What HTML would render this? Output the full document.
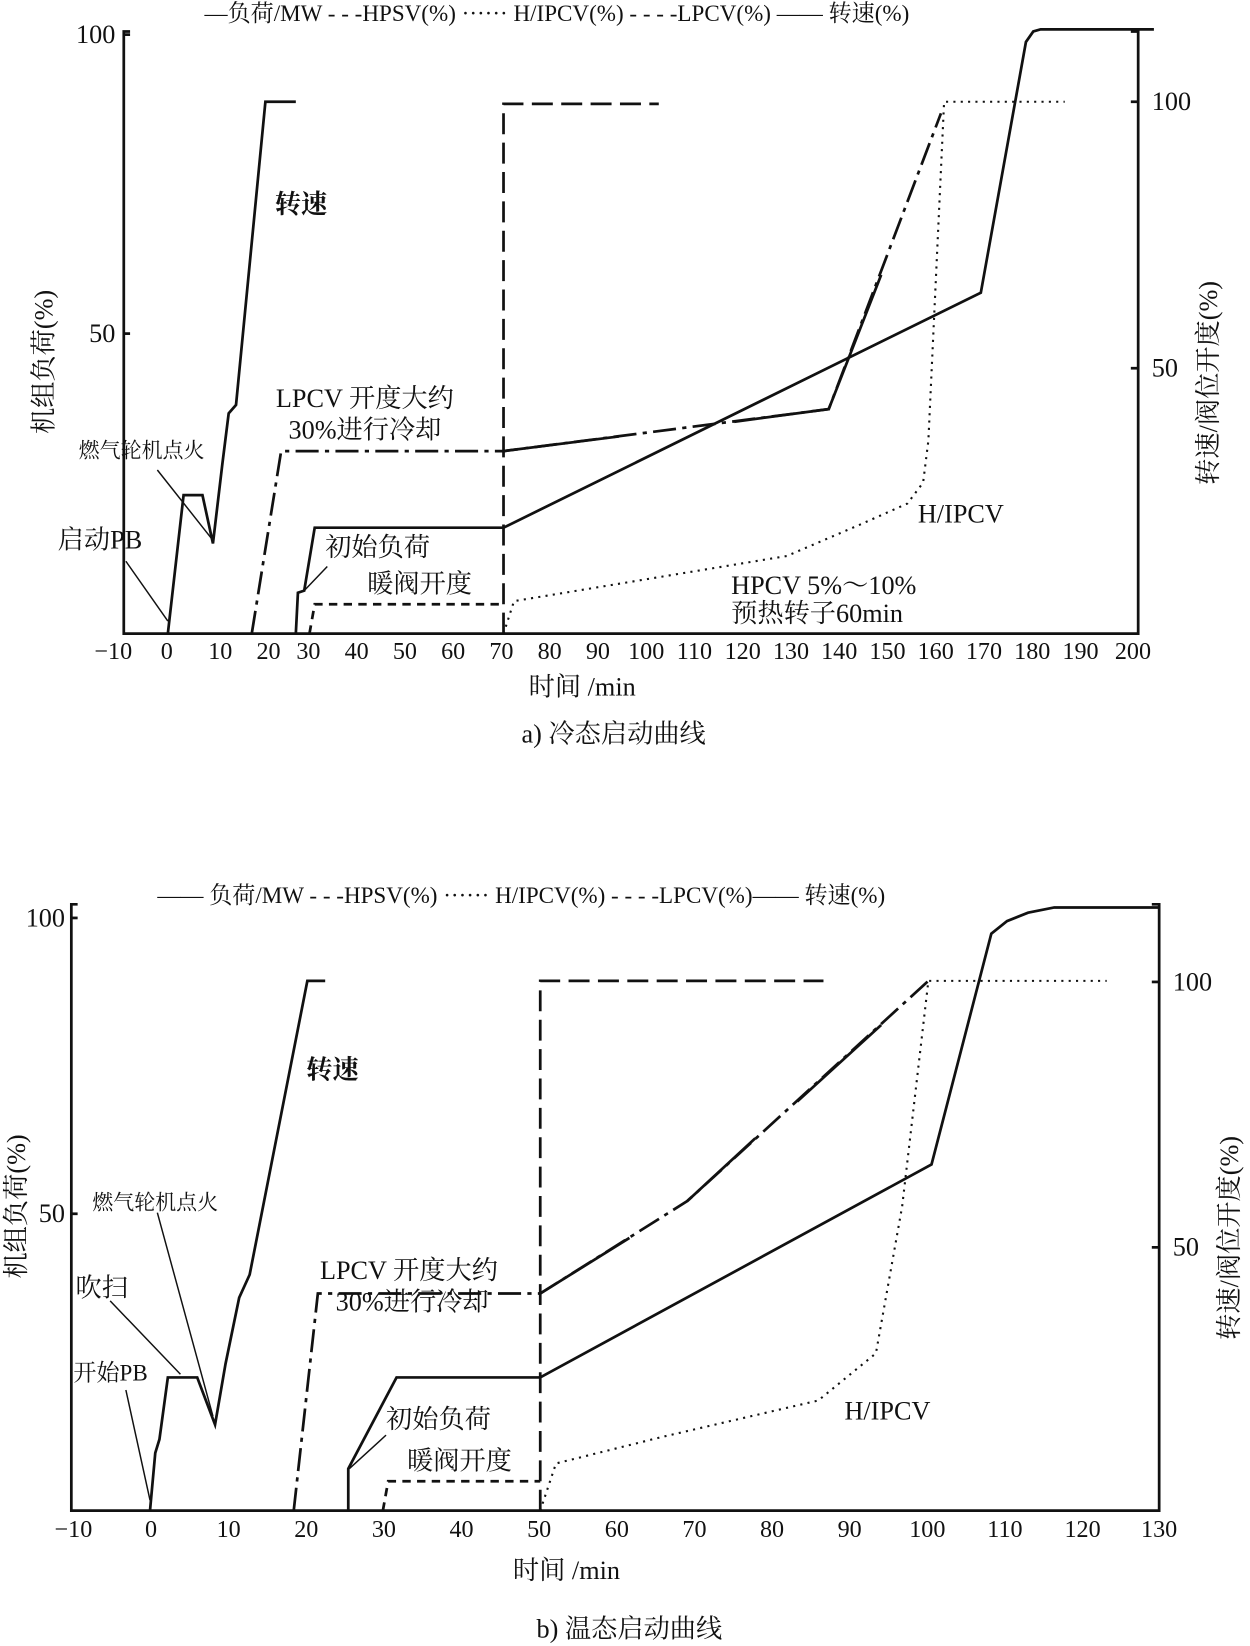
<!DOCTYPE html>
<html><head><meta charset="utf-8"><style>
html,body{margin:0;padding:0;background:#fff;}
svg{display:block}
text{font-family:"Liberation Serif","Noto Serif CJK SC","Noto Sans CJK SC",serif;fill:#111}
</style></head><body>
<svg width="1250" height="1646" viewBox="0 0 1191.6 1569" preserveAspectRatio="none" xmlns="http://www.w3.org/2000/svg">
<rect width="1191.6" height="1569" fill="#fff"/>
<g stroke="#111" fill="none" stroke-width="2.6">
<polyline points="124,30 118,30 118,604 1085,604 1085,30 1078,30"/>
<line x1="118" y1="318" x2="124" y2="318"/><line x1="118" y1="33" x2="124" y2="33"/>
<line x1="1085" y1="97" x2="1078" y2="97"/><line x1="1085" y1="351" x2="1078" y2="351"/>
<polyline points="160,604 175,472 193,472 203,518 212,442 218,394 225,386 253,97 282,97"/>
<polyline points="282,604 284,565 290,563 300,503 480,503 935,279 978,40 985,30 992,28 1100,28"/>
<polyline stroke-dasharray="22,6,4,6" points="240,604 268,430 480,430 790,390 897,108"/>
<polyline points="480,430 590,416"/><polyline points="700,402 790,390 840,262"/>
<polyline stroke-dasharray="20,8" points="480,604 480,99 628,99"/>
<polyline stroke-dasharray="8,6" points="295,604 300,576 480,576"/>
<polyline stroke-dasharray="2,5" stroke-width="2" points="480,604 490,573 750,530 820,500 865,480 880,460 885,420 900,97 1015,97"/>
<g stroke-width="1.4"><line x1="150" y1="448" x2="203" y2="515"/><line x1="120" y1="535" x2="160" y2="592"/><line x1="312" y1="540" x2="290" y2="563"/></g>
</g>
<g font-size="25">
<text x="110" y="41" text-anchor="end">100</text><text x="110" y="326" text-anchor="end">50</text>
<text x="1098" y="105">100</text><text x="1098" y="359">50</text>
<g text-anchor="middle" font-size="23">
<text x="108" y="628">−10</text><text x="159" y="628">0</text><text x="210" y="628">10</text><text x="256" y="628">20</text><text x="294" y="628">30</text><text x="340" y="628">40</text><text x="386" y="628">50</text><text x="432" y="628">60</text><text x="478" y="628">70</text><text x="524" y="628">80</text><text x="570" y="628">90</text><text x="616" y="628">100</text><text x="662" y="628">110</text><text x="708" y="628">120</text><text x="754" y="628">130</text><text x="800" y="628">140</text><text x="846" y="628">150</text><text x="892" y="628">160</text><text x="938" y="628">170</text><text x="984" y="628">180</text><text x="1030" y="628">190</text><text x="1080" y="628">200</text>
</g>
<text x="555" y="663" text-anchor="middle">时间 /min</text>
<text x="585" y="708" text-anchor="middle">a) 冷态启动曲线</text>
<text transform="translate(50,345) rotate(-90)" text-anchor="middle">机组负荷(%)</text>
<text transform="translate(1160,365) rotate(-90)" text-anchor="middle">转速/阀位开度(%)</text>
<text x="195" y="20" font-size="22">—负荷/MW - - -HPSV(%) ······ H/IPCV(%) - - - -LPCV(%) —— 转速(%)</text>
<text x="262" y="203" font-weight="bold">转速</text>
<text x="263" y="388">LPCV 开度大约</text><text x="275" y="418">30%进行冷却</text>
<text x="75" y="436" font-size="20">燃气轮机点火</text>
<text x="55" y="523">启动PB</text>
<text x="310" y="530">初始负荷</text><text x="350" y="565">暖阀开度</text>
<text x="875" y="498">H/IPCV</text>
<text x="697" y="566">HPCV 5%～10%</text><text x="697" y="593">预热转子60min</text>
</g>

<g stroke="#111" fill="none" stroke-width="2.6">
<polyline points="74,862 68,862 68,1440 1105,1440 1105,862 1098,862"/>
<line x1="68" y1="875" x2="74" y2="875"/><line x1="68" y1="1157" x2="74" y2="1157"/>
<line x1="1105" y1="936" x2="1098" y2="936"/><line x1="1105" y1="1189" x2="1098" y2="1189"/>
<polyline points="143,1440 148,1385 152,1372 160,1313 188,1313 205,1358 215,1300 228,1237 238,1215 293,935 310,935"/>
<polyline points="332,1440 332,1400 378,1313 515,1313 888,1110 945,890 960,878 980,870 1005,865 1105,865"/>
<polyline stroke-dasharray="22,6,4,6" points="280,1440 303,1233 515,1233 655,1145 885,935"/>
<polyline points="515,1233 600,1180"/><polyline points="655,1145 720,1085"/><polyline points="760,1050 840,977"/>
<polyline stroke-dasharray="20,8" points="515,1440 515,935 785,935"/>
<polyline stroke-dasharray="8,6" points="365,1440 370,1412 515,1412"/>
<polyline stroke-dasharray="2,5" stroke-width="2" points="515,1440 530,1395 630,1370 780,1335 835,1290 860,1150 885,935 1055,935"/>
<g stroke-width="1.4"><line x1="150" y1="1156" x2="203" y2="1350"/><line x1="105" y1="1240" x2="172" y2="1310"/><line x1="120" y1="1325" x2="143" y2="1430"/><line x1="368" y1="1368" x2="333" y2="1400"/></g>
</g>
<g font-size="25">
<text x="62" y="883" text-anchor="end">100</text><text x="62" y="1165" text-anchor="end">50</text>
<text x="1118" y="944">100</text><text x="1118" y="1197">50</text>
<g text-anchor="middle" font-size="23">
<text x="70" y="1465">−10</text><text x="144" y="1465">0</text><text x="218" y="1465">10</text><text x="292" y="1465">20</text><text x="366" y="1465">30</text><text x="440" y="1465">40</text><text x="514" y="1465">50</text><text x="588" y="1465">60</text><text x="662" y="1465">70</text><text x="736" y="1465">80</text><text x="810" y="1465">90</text><text x="884" y="1465">100</text><text x="958" y="1465">110</text><text x="1032" y="1465">120</text><text x="1105" y="1465">130</text>
</g>
<text x="540" y="1505" text-anchor="middle">时间 /min</text>
<text x="600" y="1561" text-anchor="middle">b) 温态启动曲线</text>
<text transform="translate(24,1150) rotate(-90)" text-anchor="middle">机组负荷(%)</text>
<text transform="translate(1180,1180) rotate(-90)" text-anchor="middle">转速/阀位开度(%)</text>
<text x="150" y="861" font-size="22">—— 负荷/MW - - -HPSV(%) ······ H/IPCV(%) - - - -LPCV(%)—— 转速(%)</text>
<text x="292" y="1028" font-weight="bold">转速</text>
<text x="305" y="1219">LPCV 开度大约</text><text x="320" y="1249">30%进行冷却</text>
<text x="88" y="1153" font-size="20">燃气轮机点火</text>
<text x="72" y="1236">吹扫</text>
<text x="70" y="1316" font-size="22">开始PB</text>
<text x="368" y="1361">初始负荷</text><text x="388" y="1401">暖阀开度</text>
<text x="805" y="1353">H/IPCV</text>
</g>
</svg>
</body></html>
